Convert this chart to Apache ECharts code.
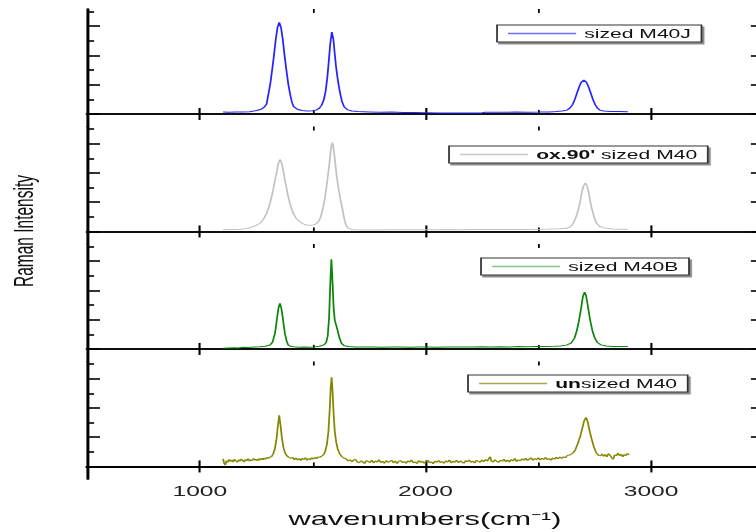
<!DOCTYPE html>
<html>
<head>
<meta charset="utf-8">
<script src="https://cdn.jsdelivr.net/npm/echarts@6/dist/echarts.min.js"></script>
<style>
  html, body { margin: 0; padding: 0; background: #fff; overflow: hidden; }
  #wrap { width: 756px; height: 532px; overflow: hidden; position: relative; background: #fff; }
  /* the figure is laid out narrow and widened horizontally, as in the original plot export */
  #chart { width: 430px; height: 532px; transform: scaleX(1.75814); transform-origin: 0 0; }
</style>
</head>
<body>
<div id="wrap"><div id="chart"></div></div>
<script>
// ---- axis ticks ----
const wavenumberTicks = [1000, 2000, 3000];
const wavenumberMinorTicks = [1500, 2500];
const intensityTicks = [0, 1, 2, 3];
const intensityMinorTicks = [0.5, 1.5, 2.5, 3.5];

// ---- sample names (top to bottom) ----
const sampleNames = ['sized M40J', "ox.90' sized M40", 'sized M40B', 'unsized M40'];

// ---- spectra: [wavenumber (cm-1), intensity (a.u.)] ----
const sizedM40J = [
  [1103,0.065],[1130,0.06],[1160,0.07],[1190,0.065],[1222,0.075],[1252,0.12],[1272,0.16],[1288,0.25],
  [1296,0.345],[1304,0.68],[1312,1.02],[1320,1.48],[1328,1.97],[1336,2.52],[1344,2.95],[1352,3.13],
  [1360,2.95],[1368,2.52],[1376,1.97],[1384,1.48],[1392,1.02],[1400,0.68],[1408,0.4],[1416,0.25],
  [1432,0.16],[1452,0.12],[1475,0.1],[1500,0.11],[1515,0.13],[1530,0.2],[1540,0.3],[1550,0.5],
  [1558,0.8],[1565,1.25],[1572,1.85],[1578,2.4],[1585,2.8],[1592,2.55],[1598,2.05],[1604,1.6],
  [1610,1.25],[1616,0.95],[1622,0.7],[1630,0.42],[1640,0.24],[1655,0.14],[1675,0.1],[1700,0.08],
  [1750,0.07],[1800,0.06],[1850,0.065],[1900,0.05],[1950,0.045],[2000,0.04],[2064,0.03],[2100,0.035],
  [2150,0.03],[2200,0.035],[2250,0.03],[2263,0.055],[2300,0.06],[2350,0.055],[2400,0.065],[2450,0.06],
  [2507,0.065],[2550,0.07],[2580,0.08],[2605,0.1],[2627,0.13],[2640,0.2],[2652,0.32],[2662,0.5],
  [2671,0.7],[2680,0.9],[2690,1.08],[2702,1.157],[2714,1.08],[2724,0.9],[2733,0.7],[2742,0.5],
  [2752,0.32],[2762,0.2],[2773,0.13],[2790,0.1],[2820,0.085],[2860,0.08],[2897,0.075]
];

const ox90SizedM40 = [
  [1103,0.06],[1130,0.065],[1160,0.07],[1180,0.075],[1200,0.09],[1222,0.125],[1245,0.19],[1267,0.28],
  [1282,0.42],[1296,0.62],[1308,0.88],[1318,1.18],[1326,1.47],[1333,1.75],[1341,2.05],[1348,2.32],
  [1355,2.46],[1361,2.38],[1367,2.2],[1372,1.98],[1377,1.75],[1385,1.45],[1392,1.18],[1402,0.88],
  [1414,0.62],[1428,0.44],[1444,0.33],[1458,0.26],[1473,0.22],[1488,0.21],[1503,0.22],[1515,0.26],
  [1525,0.33],[1533,0.45],[1540,0.62],[1548,0.88],[1555,1.18],[1560,1.45],[1565,1.75],[1570,2.05],
  [1574,2.32],[1578,2.62],[1582,2.89],[1587,3.04],[1591,2.92],[1594,2.76],[1598,2.48],[1602,2.2],
  [1606,1.92],[1611,1.64],[1616,1.4],[1621,1.18],[1627,0.95],[1633,0.73],[1638,0.52],[1643,0.33],
  [1650,0.19],[1658,0.11],[1670,0.07],[1690,0.055],[1720,0.05],[1760,0.05],[1800,0.05],[1850,0.055],
  [1900,0.06],[1950,0.055],[2000,0.06],[2050,0.06],[2100,0.065],[2150,0.06],[2200,0.065],[2250,0.065],
  [2300,0.07],[2350,0.065],[2400,0.07],[2450,0.07],[2507,0.072],[2550,0.08],[2590,0.09],[2625,0.105],
  [2642,0.16],[2655,0.276],[2666,0.46],[2677,0.73],[2685,1.0],[2692,1.3],[2700,1.55],[2709,1.66],
  [2717,1.55],[2724,1.3],[2731,1.0],[2739,0.73],[2748,0.47],[2758,0.276],[2772,0.17],[2788,0.13],
  [2803,0.105],[2830,0.085],[2860,0.075],[2899,0.072]
];

const sizedM40B = [
  [1104,0.02],[1125,0.03],[1150,0.04],[1170,0.035],[1191,0.055],[1215,0.05],[1240,0.065],[1267,0.075],
  [1290,0.09],[1311,0.133],[1322,0.23],[1333,0.53],[1338,0.8],[1343,1.1],[1349,1.42],[1355,1.556],
  [1361,1.4],[1367,1.1],[1372,0.8],[1377,0.53],[1385,0.26],[1392,0.133],[1403,0.09],[1414,0.075],
  [1440,0.06],[1465,0.065],[1488,0.055],[1510,0.07],[1530,0.09],[1548,0.13],[1560,0.22],[1567,0.45],
  [1573,1.1],[1578,2.2],[1583,3.07],[1588,2.3],[1593,1.4],[1598,0.98],[1604,0.82],[1611,0.62],
  [1619,0.37],[1628,0.19],[1640,0.11],[1660,0.08],[1690,0.07],[1730,0.065],[1770,0.07],[1810,0.06],
  [1850,0.065],[1890,0.07],[1930,0.06],[1970,0.065],[2010,0.07],[2050,0.06],[2090,0.07],[2130,0.065],
  [2170,0.07],[2210,0.065],[2250,0.075],[2290,0.07],[2330,0.075],[2370,0.07],[2410,0.08],[2450,0.075],
  [2490,0.08],[2530,0.08],[2570,0.09],[2600,0.1],[2625,0.13],[2645,0.2],[2660,0.36],[2670,0.6],
  [2680,0.95],[2690,1.4],[2698,1.8],[2705,1.94],[2712,1.82],[2720,1.45],[2730,0.98],[2740,0.62],
  [2750,0.38],[2762,0.22],[2778,0.14],[2800,0.1],[2830,0.085],[2860,0.08],[2897,0.08]
];

const unsizedM40 = [
  [1103,0.26],[1108,0.1],[1113,0.05],[1118,0.2],[1123,0.14],[1130,0.24],[1136,0.17],[1142,0.22],
  [1148,0.15],[1154,0.25],[1160,0.19],[1166,0.14],[1172,0.23],[1178,0.18],[1184,0.26],[1190,0.2],
  [1196,0.15],[1202,0.24],[1208,0.19],[1214,0.27],[1220,0.18],[1226,0.23],[1232,0.2],[1238,0.27],
  [1244,0.21],[1250,0.25],[1256,0.19],[1262,0.27],[1268,0.22],[1274,0.28],[1280,0.23],[1286,0.29],
  [1292,0.25],[1298,0.31],[1304,0.27],[1310,0.32],[1318,0.34],[1325,0.42],[1333,0.62],[1340,0.95],
  [1346,1.4],[1352,1.75],[1358,1.38],[1364,0.96],[1371,0.63],[1378,0.46],[1386,0.36],[1395,0.31],
  [1405,0.28],[1412,0.31],[1419,0.23],[1426,0.29],[1433,0.22],[1440,0.27],[1447,0.2],[1454,0.28],
  [1461,0.24],[1468,0.3],[1475,0.21],[1482,0.27],[1489,0.23],[1496,0.3],[1503,0.25],[1510,0.31],
  [1517,0.26],[1524,0.32],[1531,0.31],[1540,0.35],[1548,0.4],[1555,0.5],[1563,0.75],[1570,1.2],
  [1576,2.0],[1580,2.7],[1584,3.05],[1588,2.6],[1593,1.8],[1598,1.2],[1604,0.85],[1611,0.6],
  [1620,0.43],[1630,0.33],[1640,0.28],[1650,0.25],[1658,0.19],[1666,0.23],[1674,0.16],[1682,0.22],
  [1690,0.24],[1698,0.15],[1706,0.13],[1714,0.19],[1722,0.16],[1730,0.1],[1738,0.2],[1746,0.17],
  [1754,0.13],[1762,0.21],[1770,0.12],[1778,0.19],[1786,0.15],[1794,0.23],[1802,0.13],[1810,0.18],
  [1818,0.11],[1826,0.2],[1834,0.14],[1842,0.17],[1850,0.21],[1858,0.12],[1866,0.19],[1874,0.1],
  [1882,0.18],[1890,0.2],[1898,0.13],[1906,0.17],[1914,0.11],[1922,0.19],[1930,0.15],[1938,0.22],
  [1946,0.12],[1954,0.16],[1962,0.1],[1970,0.2],[1978,0.14],[1986,0.18],[1994,0.11],[2002,0.17],
  [2010,0.21],[2018,0.12],[2026,0.16],[2034,0.09],[2042,0.18],[2050,0.14],[2058,0.2],[2066,0.13],
  [2074,0.17],[2082,0.11],[2090,0.19],[2098,0.15],[2106,0.22],[2114,0.12],[2122,0.18],[2130,0.14],
  [2138,0.21],[2146,0.13],[2154,0.19],[2162,0.15],[2170,0.11],[2178,0.2],[2186,0.16],[2194,0.22],
  [2202,0.14],[2210,0.18],[2218,0.12],[2226,0.21],[2234,0.17],[2242,0.14],[2250,0.22],[2258,0.16],
  [2266,0.24],[2274,0.18],[2282,0.28],[2287,0.33],[2292,0.19],[2300,0.15],[2308,0.23],[2316,0.17],
  [2324,0.14],[2332,0.21],[2340,0.18],[2348,0.25],[2356,0.16],[2364,0.22],[2372,0.15],[2380,0.24],
  [2388,0.19],[2396,0.27],[2404,0.17],[2412,0.23],[2420,0.19],[2428,0.26],[2436,0.21],[2444,0.28],
  [2452,0.2],[2460,0.25],[2468,0.3],[2476,0.21],[2484,0.27],[2492,0.23],[2500,0.3],[2508,0.22],
  [2516,0.28],[2524,0.24],[2532,0.31],[2540,0.23],[2548,0.27],[2556,0.21],[2564,0.29],[2572,0.25],
  [2580,0.31],[2588,0.26],[2596,0.32],[2604,0.27],[2612,0.33],[2620,0.3],[2628,0.37],[2642,0.4],
  [2655,0.47],[2665,0.58],[2675,0.78],[2685,1.0],[2695,1.3],[2704,1.58],[2712,1.68],[2720,1.5],
  [2728,1.2],[2736,0.95],[2746,0.68],[2756,0.48],[2766,0.38],[2776,0.36],[2783,0.43],[2790,0.35],
  [2797,0.41],[2804,0.33],[2811,0.44],[2818,0.38],[2825,0.3],[2832,0.25],[2839,0.4],[2846,0.36],
  [2853,0.45],[2860,0.37],[2867,0.42],[2874,0.33],[2881,0.41],[2888,0.37],[2895,0.44],[2903,0.39]
];

const spectra = [sizedM40J, ox90SizedM40, sizedM40B, unsizedM40];
const lineColors = ['#2424ff', '#c2c2c2', '#0b860b', '#868600'];
const legendLineColors = ['#6e6eff', '#c8c8c8', '#84c684', '#a8a850'];

// ---- layout (in the narrow, pre-stretch coordinate space) ----
const FONT = '"Liberation Sans", Arial, Helvetica, sans-serif';
const GRID_LEFT = 49.5, GRID_WIDTH = 385;
const panelTops = [9, 126.5, 244, 361.5];
const PANEL_HEIGHT = 117.5;
const legendLefts = [282.7, 255.4, 273.6, 266.2];
const legendTops = [25, 146, 258, 375];

// legend text: the sample-name prefix is set in bold where the original legend does so
const legendLabels = [
  '{ln0|}{gap|}sized M40J',
  "{ln1|}{gap|}{b|ox.90'} sized M40",
  '{ln2|}{gap|}sized M40B',
  '{ln3|}{gap|}{b|un}sized M40'
];

const grid = [], xAxis = [], yAxis = [], series = [], legend = [];

const legendRich = {
  b: { fontFamily: FONT, fontSize: 12, fontWeight: 'bold', color: '#111', lineHeight: 15 },
  gap: { width: 4.6, height: 1 }
};
legendLineColors.forEach((c, k) => {
  legendRich['ln' + k] = { width: 38.7, height: 1.3, lineHeight: 15, backgroundColor: c, verticalAlign: 'middle' };
});

spectra.forEach((data, i) => {
  const lastPanel = i === spectra.length - 1;
  grid.push({ left: GRID_LEFT, top: panelTops[i], width: GRID_WIDTH, height: PANEL_HEIGHT, outerBoundsMode: 'none' });

  const xCommon = { type: 'value', gridIndex: i, min: 500, max: 3500, splitLine: { show: false }, axisLabel: { show: false } };
  const xIndex = xAxis.length;
  // bottom edge: axis line, major ticks (+ labels on the last panel)
  xAxis.push(Object.assign({}, xCommon, {
    position: 'bottom',
    axisLine: { show: true, lineStyle: { color: '#000', width: lastPanel ? 2 : 1.6 } },
    axisTick: { show: true, inside: true, length: 6, customValues: wavenumberTicks, lineStyle: { color: '#000', width: 1.2 } },
    axisLabel: lastPanel
      ? { show: true, customValues: wavenumberTicks, formatter: v => String(v), margin: 5, color: '#222', fontSize: 14, fontFamily: FONT }
      : { show: false }
  }));
  // bottom edge: minor ticks
  xAxis.push(Object.assign({}, xCommon, {
    position: 'bottom',
    axisLine: { show: false },
    axisTick: { show: true, inside: true, length: 4, customValues: wavenumberMinorTicks, lineStyle: { color: '#000', width: 1 } }
  }));
  // top edge: axis line and ticks
  xAxis.push(Object.assign({}, xCommon, {
    position: 'top',
    axisLine: { show: true, lineStyle: { color: '#000', width: 1.6 } },
    axisTick: { show: true, inside: true, length: 6, customValues: wavenumberTicks, lineStyle: { color: '#000', width: 1.2 } }
  }));
  xAxis.push(Object.assign({}, xCommon, {
    position: 'top',
    axisLine: { show: false },
    axisTick: { show: true, inside: true, length: 4, customValues: wavenumberMinorTicks, lineStyle: { color: '#000', width: 1 } }
  }));

  const yCommon = { type: 'value', gridIndex: i, min: -0.43, max: 3.59, splitLine: { show: false }, axisLabel: { show: false } };
  const yIndex = yAxis.length;
  yAxis.push(Object.assign({}, yCommon, {
    position: 'left',
    axisLine: { show: true, lineStyle: { color: '#000', width: 1.7 } },
    axisTick: { show: true, inside: true, length: 7.4, customValues: intensityTicks, lineStyle: { color: '#000', width: 1.6 } }
  }));
  yAxis.push(Object.assign({}, yCommon, {
    position: 'left',
    axisLine: { show: false },
    axisTick: { show: true, inside: true, length: 4, customValues: intensityMinorTicks, lineStyle: { color: '#000', width: 1.6 } }
  }));
  yAxis.push(Object.assign({}, yCommon, {
    position: 'right',
    axisLine: { show: true, lineStyle: { color: '#000', width: 1.7 } },
    axisTick: { show: true, inside: true, length: 7.4, customValues: intensityTicks, lineStyle: { color: '#000', width: 1.6 } }
  }));

  series.push({
    type: 'line',
    name: sampleNames[i],
    xAxisIndex: xIndex,
    yAxisIndex: yIndex,
    data: data,
    symbol: 'none',
    showSymbol: false,
    silent: true,
    lineStyle: { color: lineColors[i], width: 1 },
    itemStyle: { color: lineColors[i] }
  });

  const label = legendLabels[i];
  legend.push({
    data: [{ name: sampleNames[i], icon: 'none' }],
    left: legendLefts[i],
    top: legendTops[i],
    orient: 'horizontal',
    selectedMode: false,
    icon: 'none',
    itemWidth: 0,
    itemHeight: 1,
    padding: [1, 6, 1, 1.3],
    backgroundColor: '#fff',
    borderColor: '#333',
    borderWidth: 1,
    borderRadius: 0,
    shadowColor: 'rgba(0,0,0,0.45)',
    shadowBlur: 0,
    shadowOffsetX: 1.2,
    shadowOffsetY: 2,
    formatter: () => label,
    textStyle: { fontFamily: FONT, fontSize: 12, color: '#111', lineHeight: 15, rich: legendRich }
  });
});

const chart = echarts.init(document.getElementById('chart'), null, { renderer: 'svg' });
chart.setOption({
  backgroundColor: '#fff',
  animation: false,
  grid, xAxis, yAxis, series, legend,
  graphic: [
    {
      type: 'text', x: 13.7, y: 231, rotation: Math.PI / 2, silent: true,
      style: { text: 'Raman Intensity', font: '15.5px ' + FONT, fill: '#111',
               align: 'center', verticalAlign: 'middle', textAlign: 'center', textVerticalAlign: 'middle' }
    },
    {
      type: 'text', x: 241.7, y: 519, silent: true,
      style: { text: 'wavenumbers(cm\u207B\u00B9)', font: '17.5px ' + FONT, fill: '#111',
               align: 'center', verticalAlign: 'middle', textAlign: 'center', textVerticalAlign: 'middle' }
    }
  ]
});
</script>
</body>
</html>
